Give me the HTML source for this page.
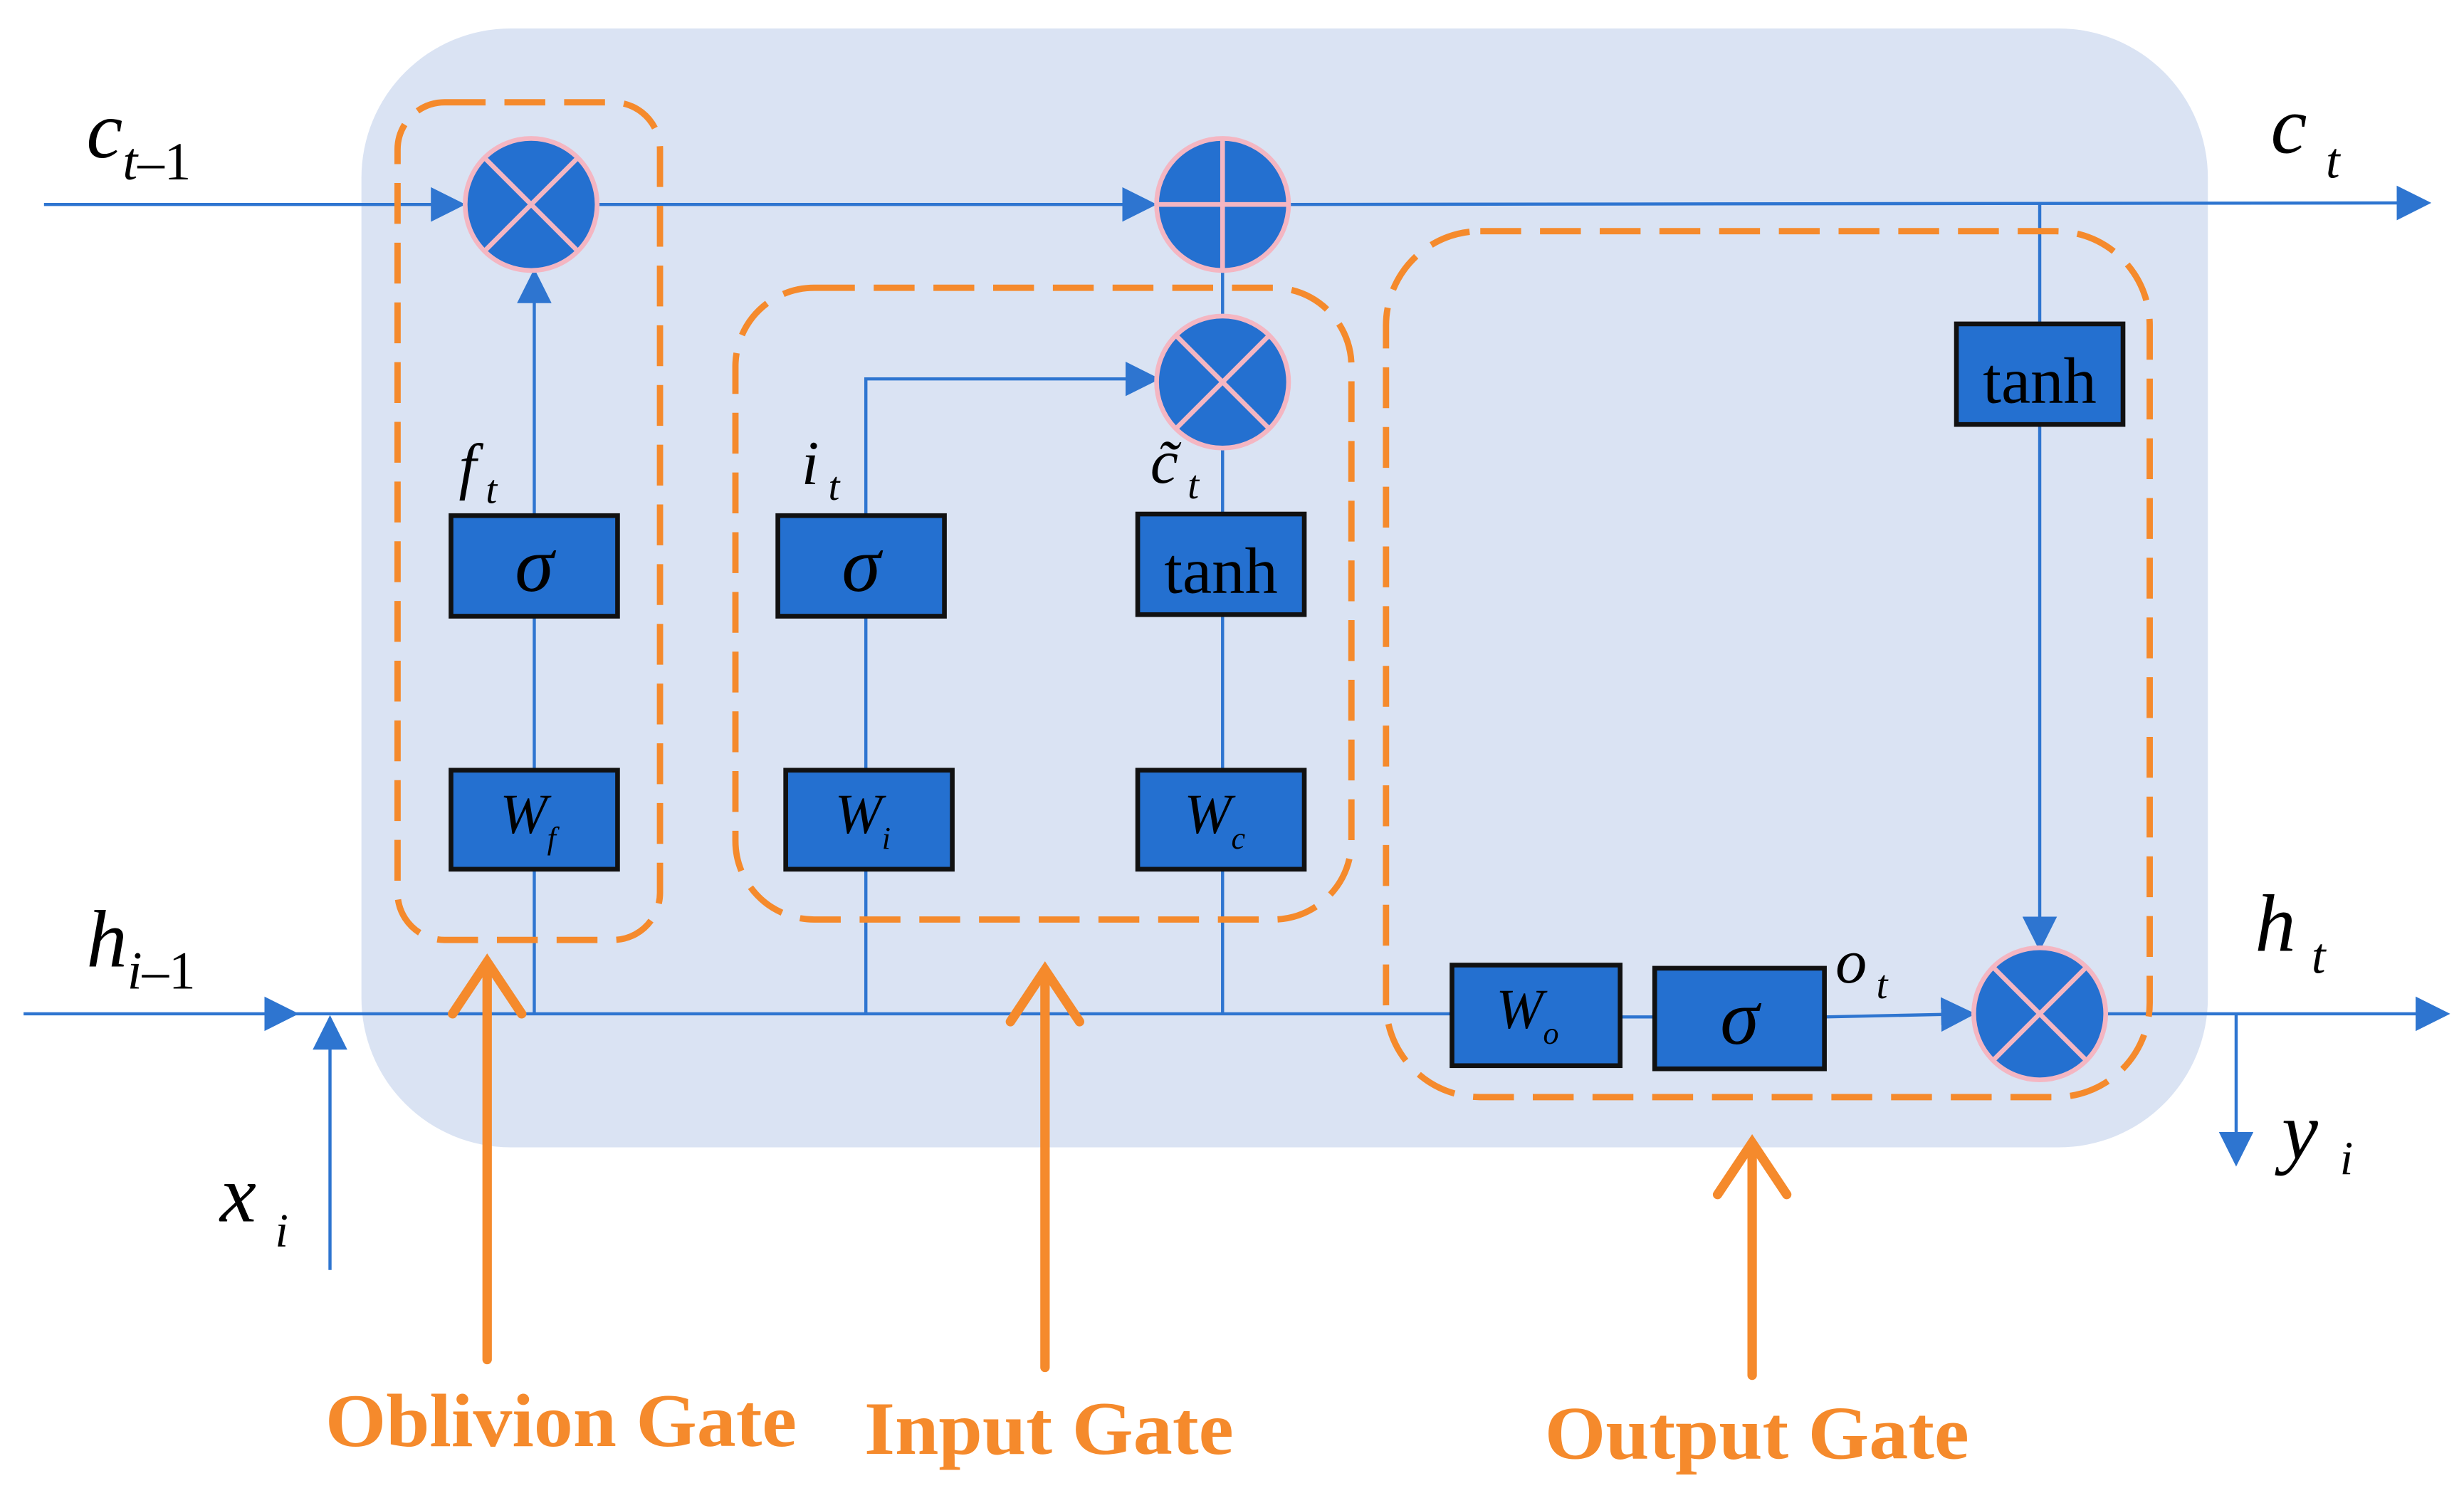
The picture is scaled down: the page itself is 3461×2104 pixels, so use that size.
<!DOCTYPE html>
<html><head><meta charset="utf-8"><style>html,body{margin:0;padding:0;background:#fff}svg{display:block}</style></head>
<body>
<svg width="3461" height="2104" viewBox="0 0 1568 953" xmlns="http://www.w3.org/2000/svg">
<defs>
<marker id="b" viewBox="0 0 10 10" refX="9" refY="5" markerWidth="22" markerHeight="22" markerUnits="userSpaceOnUse" orient="auto"><path d="M0,0 L10,5 L0,10 z" fill="#2e75d0"/></marker>
</defs>
<rect x="230" y="18" width="1175" height="712" rx="95" fill="#dae3f3"/>
<g stroke="#2e75d0" stroke-width="2" fill="none">
<line x1="28" y1="130" x2="294" y2="130" marker-end="url(#b)"/>
<line x1="380" y1="130" x2="734" y2="130" marker-end="url(#b)"/>
<line x1="820" y1="130" x2="1545" y2="129" marker-end="url(#b)"/>
<line x1="15" y1="645" x2="188" y2="645" marker-end="url(#b)"/>
<line x1="188" y1="645" x2="924" y2="645"/>
<line x1="1340" y1="645" x2="1557" y2="645" marker-end="url(#b)"/>
<line x1="210" y1="808" x2="210" y2="648" marker-end="url(#b)"/>
<line x1="1423" y1="645" x2="1423" y2="740" marker-end="url(#b)"/>
<line x1="340" y1="553" x2="340" y2="645"/>
<line x1="340" y1="392" x2="340" y2="490"/>
<line x1="340" y1="328" x2="340" y2="173" marker-end="url(#b)"/>
<line x1="551" y1="392" x2="551" y2="490"/>
<line x1="551" y1="553" x2="551" y2="645"/>
<polyline points="551,328 551,241 736,241" marker-end="url(#b)"/>
<line x1="778" y1="391" x2="778" y2="490"/>
<line x1="778" y1="553" x2="778" y2="645"/>
<line x1="778" y1="327" x2="778" y2="285"/>
<line x1="778" y1="201" x2="778" y2="172"/>
<line x1="1298" y1="130" x2="1298" y2="206"/>
<line x1="1298" y1="270" x2="1298" y2="603" marker-end="url(#b)"/>
<line x1="1031" y1="647" x2="1053" y2="647"/>
<line x1="1161" y1="647" x2="1255" y2="645" marker-end="url(#b)"/>
</g>
<g fill="#2470d0" stroke="#f4b6c2" stroke-width="3">
<circle cx="338" cy="130" r="42"/><circle cx="778" cy="130" r="42"/><circle cx="778" cy="243" r="42"/><circle cx="1298" cy="645" r="42"/>
</g>
<g stroke="#f4b6c2" stroke-width="3">
<path d="M308,100 L368,160 M368,100 L308,160"/>
<path d="M778,88 L778,172 M736,130 L820,130"/>
<path d="M748,213 L808,273 M808,213 L748,273"/>
<path d="M1268,615 L1328,675 M1328,615 L1268,675"/>
</g>
<g fill="#2470d0" stroke="#111" stroke-width="3">
<rect x="287" y="328" width="106" height="64"/><rect x="287" y="490" width="106" height="63"/>
<rect x="495" y="328" width="106" height="64"/><rect x="500" y="490" width="106" height="63"/>
<rect x="724" y="327" width="106" height="64"/><rect x="724" y="490" width="106" height="63"/>
<rect x="1245" y="206" width="106" height="64"/><rect x="924" y="614" width="107" height="64"/>
<rect x="1053" y="616" width="108" height="64"/>
</g>
<g fill="none" stroke="#f58a2c" stroke-width="4" stroke-dasharray="26,12">
<rect x="253" y="65" width="167" height="533" rx="30"/>
<rect x="468" y="183" width="392" height="402" rx="50"/>
<rect x="882" y="147" width="486" height="551" rx="60"/>
</g>
<g stroke="#f58a2c" stroke-width="6" fill="none" stroke-linecap="round">
<path d="M310,865 L310,612 M288,645 L310,612 L332,645"/>
<path d="M665,870 L665,617 M643,650 L665,617 L687,650"/>
<path d="M1115,875 L1115,727 M1093,760 L1115,727 L1137,760"/>
</g>
<g font-family="Liberation Serif, serif" font-weight="bold" fill="#f58a2c" font-size="48">
<text x="207" y="920" textLength="300" lengthAdjust="spacingAndGlyphs">Oblivion Gate</text>
<text x="550" y="925" textLength="235" lengthAdjust="spacingAndGlyphs">Input Gate</text>
<text x="983" y="928" textLength="270" lengthAdjust="spacingAndGlyphs">Output Gate</text>
</g>
<g font-family="Liberation Serif, serif" fill="#000" text-anchor="middle">
<text x="340" y="376" font-size="50" font-style="italic">σ</text>
<text x="548" y="376" font-size="50" font-style="italic">σ</text>
<text x="1107" y="664" font-size="50" font-style="italic">σ</text>
<text x="777" y="377" font-size="42">tanh</text>
<text x="1298" y="256" font-size="42">tanh</text>
<text x="336" y="530" font-size="36" font-style="italic">W<tspan font-size="20" dy="10">f</tspan></text>
<text x="549" y="530" font-size="36" font-style="italic">W<tspan font-size="20" dy="10">i</tspan></text>
<text x="773" y="530" font-size="36" font-style="italic">W<tspan font-size="20" dy="10">c</tspan></text>
<text x="972" y="654" font-size="36" font-style="italic">W<tspan font-size="20" dy="10">o</tspan></text>
</g>
<g font-family="Liberation Serif, serif" font-style="italic" fill="#000">
<text x="55" y="100" font-size="52">c<tspan font-size="34" dy="14">t</tspan><tspan font-size="34" font-style="normal">–1</tspan></text>
<text x="1445" y="97" font-size="52">c<tspan font-size="32" dy="16" dx="12">t</tspan></text>
<text x="55" y="615" font-size="52">h<tspan font-size="34" dy="14">i</tspan><tspan font-size="34" font-style="normal">–1</tspan></text>
<text x="1435" y="605" font-size="52">h<tspan font-size="32" dy="14" dx="10">t</tspan></text>
<text x="140" y="777" font-size="52">x<tspan font-size="30" dy="16" dx="12">i</tspan></text>
<text x="1452" y="737" font-size="52">y<tspan font-size="30" dy="10" dx="14">i</tspan></text>
<text x="292" y="310" font-size="40">f<tspan font-size="26" dy="10" dx="6">t</tspan></text>
<text x="510" y="308" font-size="40">i<tspan font-size="26" dy="10" dx="6">t</tspan></text>
<text x="732" y="307" font-size="40">c̃<tspan font-size="26" dy="10" dx="6">t</tspan></text>
<text x="1168" y="625" font-size="40">o<tspan font-size="26" dy="10" dx="6">t</tspan></text>
</g>
</svg>
</body></html>
